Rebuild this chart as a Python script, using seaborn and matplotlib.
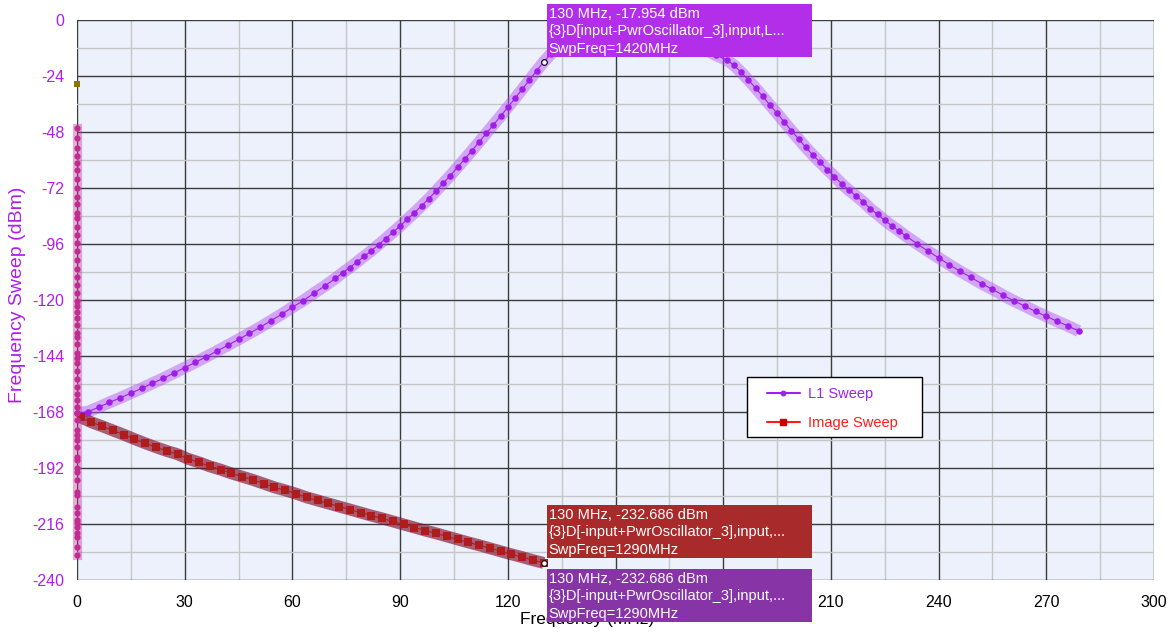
import numpy as np
import pandas as pd
import matplotlib
matplotlib.use("Agg")
import matplotlib.pyplot as plt
from matplotlib.patches import Rectangle
from matplotlib.transforms import IdentityTransform
from matplotlib.lines import Line2D
from matplotlib.ticker import MultipleLocator
import seaborn as sns

# ---------------------------------------------------------------- data
# L1 sweep: output frequency (MHz) and level (dBm)
l1_freq = [0, 3, 6, 9, 12, 15, 18, 21, 24, 27, 30, 33, 36, 39, 42, 45, 48, 51, 54, 57,
           60, 63, 66, 69, 72,
           74, 76, 78, 80, 82, 84, 86, 88, 90, 92, 94, 96, 98, 100, 102, 104, 106, 108,
           110, 112, 114, 116, 118, 120, 122, 124, 126, 128, 130,
           132, 134, 136, 138, 140, 142, 144, 146, 148, 150, 152, 154, 156, 158, 160,
           162, 164, 166, 168, 170, 172, 174, 176, 178,
           181, 183, 185, 187, 189, 191, 193, 195, 197, 199, 201, 203, 205, 207, 209,
           211, 213, 215, 217, 219, 221, 223, 225, 227, 229, 231,
           234, 237, 240, 243, 246, 249, 252, 255, 258, 261, 264, 267, 270, 273, 276, 279]
l1_level = [-168.5, -167.9, -166.0, -163.9, -162.0, -159.9, -157.9, -155.7, -153.6, -151.3,
            -149.0, -146.7, -144.3, -141.9, -139.4, -136.9, -134.3, -131.7, -128.9, -126.1,
            -123.1, -120.3, -117.1, -114.0, -110.7,
            -108.3, -106.1, -103.7, -101.3, -98.9, -96.3, -93.7, -91.0, -88.3, -85.4,
            -82.6, -79.6, -76.6, -73.3, -70.0, -66.7, -63.1, -59.6, -56.0, -52.3,
            -48.6, -44.9, -41.2, -37.4, -33.6, -29.7, -25.8, -21.8, -17.954,
            -14.6, -11.6, -9.2, -7.4, -6.0, -5.0, -4.3, -3.8, -3.5, -3.4, -3.4, -3.5,
            -3.7, -4.0, -4.4, -5.0, -5.7, -6.6, -7.7, -8.9, -10.3, -11.9, -13.5, -15.1,
            -17.1, -19.4, -22.4, -25.7, -29.1, -32.7, -36.4, -40.0, -43.7, -47.4,
            -51.0, -54.6, -57.9, -61.0, -64.1, -67.1, -70.2, -72.9, -75.4, -77.9,
            -80.9, -83.3, -85.9, -88.2, -90.4, -92.7,
            -95.9, -99.0, -101.9, -104.9, -107.7, -110.3, -113.0, -115.4, -118.0,
            -120.4, -122.6, -124.9, -127.0, -129.1, -131.1, -133.3]

# Image sweep: output frequency (MHz) and level (dBm)
image_freq = [1, 4, 7, 10, 13, 16, 19, 22, 25, 28, 31, 34, 37, 40, 43, 46, 49, 52, 55, 58,
              61, 64, 67, 70, 73, 76, 79, 82, 85, 88, 91, 94, 97, 100, 103, 106, 109, 112,
              115, 118, 121, 124, 127, 130]
image_level = [-170.3, -172.4, -174.1, -175.9, -177.7, -179.6, -181.4, -183.1, -184.7, -186.1,
               -188.1, -189.6, -191.3, -192.7, -194.3, -195.7, -197.1, -198.7, -200.3, -201.6,
               -203.0, -204.6, -205.9, -207.2, -208.5, -209.8, -211.1, -212.4, -213.6, -214.9,
               -216.2, -217.5, -218.8, -220.0, -221.3, -222.6, -223.9, -225.1, -226.4, -227.7,
               -229.0, -230.2, -231.5, -232.686]

# Products landing at 0 MHz (both sweeps)
zero_level = [-46.2, -50.4, -54.7, -58.2, -61.4, -64.3, -68.3, -71.9, -75.7, -78.9, -82.9,
              -85.0, -88.5, -92.0, -95.5, -99.0, -103.0, -106.5, -110.0, -113.5, -117.0,
              -120.3, -122.4, -125.1, -127.6, -130.7, -134.3, -136.0, -139.0, -142.9,
              -145.0, -147.1, -150.5, -154.0, -157.2, -160.4, -162.9, -165.7, -168.6,
              -171.4, -175.7, -177.9, -180.0, -182.9, -187.1, -188.6, -192.1, -193.6,
              -197.1, -202.1, -203.6, -208.6, -211.4, -214.3, -215.7, -217.1, -220.0,
              -221.4, -225.7, -229.3]
zero_freq = [0] * len(zero_level)

ref_freq = [0]
ref_level = [-27.6]

# marker readouts
marker_freq = 130
l1_marker = -17.954
image_marker = -232.686

x_ticks = list(range(0, 301, 30))
y_ticks = list(range(-240, 1, 24))

# ---------------------------------------------------------------- style
sns.set_style("white")
plt.rcParams["font.family"] = ["Liberation Sans", "DejaVu Sans"]
plt.rcParams["axes.unicode_minus"] = False

L1_COLOR = "#a01ee6"
L1_BAND = "#b44cf0"
IMG_COLOR = "#b01c1c"
IMG_BAND = "#801030"
ZERO_COLOR = "#c02c90"
AXIS_PURPLE = "#b01ee8"

W, H = 1175, 636
fig = plt.figure(figsize=(W / 100, H / 100), dpi=100)
ax = fig.add_axes([77 / W, 56 / H, 1077 / W, 560 / H])
ax.set_facecolor("#ecf1fc")

l1 = pd.DataFrame({"freq": l1_freq, "level": l1_level})
img = pd.DataFrame({"freq": image_freq, "level": image_level})
zero = pd.DataFrame({"freq": zero_freq, "level": zero_level})
ref = pd.DataFrame({"freq": ref_freq, "level": ref_level})


def band(df, color, alpha, lw, cap):
    sns.lineplot(data=df, x="freq", y="level", sort=False, estimator=None,
                 color=color, alpha=alpha, lw=lw, ax=ax, legend=False, zorder=2)
    line = ax.lines[-1]
    line.set_solid_capstyle(cap)
    line.set_clip_on(False)


# translucent bands under each trace
band(l1, L1_BAND, 0.45, 8.6, "butt")
band(img, IMG_BAND, 0.65, 8.6, "butt")
band(zero, "#c0309a", 0.40, 6.6, "projecting")

# thin trace lines
sns.lineplot(data=l1, x="freq", y="level", sort=False, estimator=None,
             color=L1_COLOR, lw=0.8, ax=ax, legend=False, zorder=2.5)
sns.lineplot(data=img, x="freq", y="level", sort=False, estimator=None,
             color=IMG_COLOR, lw=0.8, ax=ax, legend=False, zorder=2.5)

# sample points
sns.scatterplot(data=l1, x="freq", y="level", color=L1_COLOR, marker="o", s=22,
                linewidth=0, ax=ax, legend=False, zorder=3, clip_on=False)
sns.scatterplot(data=img, x="freq", y="level", color=IMG_COLOR, marker="s", s=28,
                linewidth=0, ax=ax, legend=False, zorder=3, clip_on=False)
sns.scatterplot(data=zero, x="freq", y="level", color=ZERO_COLOR, marker="o", s=20,
                linewidth=0, ax=ax, legend=False, zorder=3.2, clip_on=False)
sns.scatterplot(data=ref, x="freq", y="level", color="#8b7300", marker="s", s=22,
                linewidth=0, ax=ax, legend=False, zorder=3.2, clip_on=False)

# marker readout points
sns.scatterplot(x=[marker_freq, marker_freq], y=[l1_marker, image_marker], color="white",
                edgecolor="black", linewidth=0.8, marker="o", s=16, ax=ax, legend=False,
                zorder=4, clip_on=False)

# ---------------------------------------------------------------- axes
ax.set_xlim(0, 300)
ax.set_ylim(-240, 0)
ax.set_xticks(x_ticks)
# 150 and 180 sit under the marker readout box
ax.set_xticklabels(["" if t in (150, 180) else str(t) for t in x_ticks])
ax.set_yticks(y_ticks)
ax.xaxis.set_minor_locator(MultipleLocator(15))
ax.yaxis.set_minor_locator(MultipleLocator(12))
ax.set_axisbelow(True)
ax.grid(which="major", color="#3c3c3c", lw=1.0)
ax.grid(which="minor", color="#c6c6c6", lw=1.0)
for s in ax.spines.values():
    s.set_visible(False)
ax.tick_params(which="minor", length=0)
ax.tick_params(which="major", length=5, width=1, color="#333333", direction="out")
ax.tick_params(axis="y", labelcolor=AXIS_PURPLE, labelsize=11.5, pad=4)
ax.tick_params(axis="x", labelcolor="black", labelsize=11.5, pad=6)

ax.set_xlabel("Frequency (MHz)", fontsize=12.5, color="black")
ax.xaxis.set_label_coords(0.4735, -0.057)
ax.set_ylabel("Frequency Sweep (dBm)", fontsize=14, color=AXIS_PURPLE)
ax.yaxis.set_label_coords(-0.047, 0.51)

# ---------------------------------------------------------------- marker readout boxes
fig.canvas.draw()
ident = IdentityTransform()


def readout(freq, level, top_offset, color, lines):
    px, py = ax.transData.transform((freq, level))
    left = px + 3
    top = py + top_offset
    ax.add_patch(Rectangle((left, top - 53), 265, 53, transform=ident, facecolor=color,
                           edgecolor="none", zorder=6, clip_on=False))
    for i, line in enumerate(lines):
        ax.text(left + 2, top - 10 - 17.5 * i, line, transform=ident, color="white",
                fontsize=10.5, ha="left", va="center", zorder=7, clip_on=False)


readout(marker_freq, l1_marker, 58, "#b22ee8",
        [f"{marker_freq} MHz, {l1_marker:.3f} dBm",
         "{3}D[input-PwrOscillator_3],input,L...",
         "SwpFreq=1420MHz"])
readout(marker_freq, image_marker, 58, "#a82a2a",
        [f"{marker_freq} MHz, {image_marker:.3f} dBm",
         "{3}D[-input+PwrOscillator_3],input,...",
         "SwpFreq=1290MHz"])
readout(marker_freq, image_marker, -6, "#8634a6",
        [f"{marker_freq} MHz, {image_marker:.3f} dBm",
         "{3}D[-input+PwrOscillator_3],input,...",
         "SwpFreq=1290MHz"])

# ---------------------------------------------------------------- legend
ax.add_patch(Rectangle((747, H - 437), 175, 60, transform=ident, facecolor="white",
                       edgecolor="black", lw=1, zorder=8, clip_on=False))
handles = [
    Line2D([], [], color="#a020f0", lw=1.5, marker="o", markersize=3.2),
    Line2D([], [], color="#ff1a1a", lw=1.5, marker="s", markersize=3.8,
           markerfacecolor="#cc0000", markeredgecolor="#cc0000"),
]
leg = ax.legend(handles, ["L1 Sweep", "Image Sweep"], loc="upper left",
                bbox_to_anchor=(767 / W, 1 - 387 / H), bbox_transform=fig.transFigure,
                frameon=False, borderpad=0, borderaxespad=0, fontsize=10.5,
                handlelength=2.26, handletextpad=0.55, labelspacing=1.05,
                labelcolor=["#a020f0", "#ff1a1a"])
leg.set_zorder(9)

fig.savefig("out.png", dpi=100, facecolor="white")
